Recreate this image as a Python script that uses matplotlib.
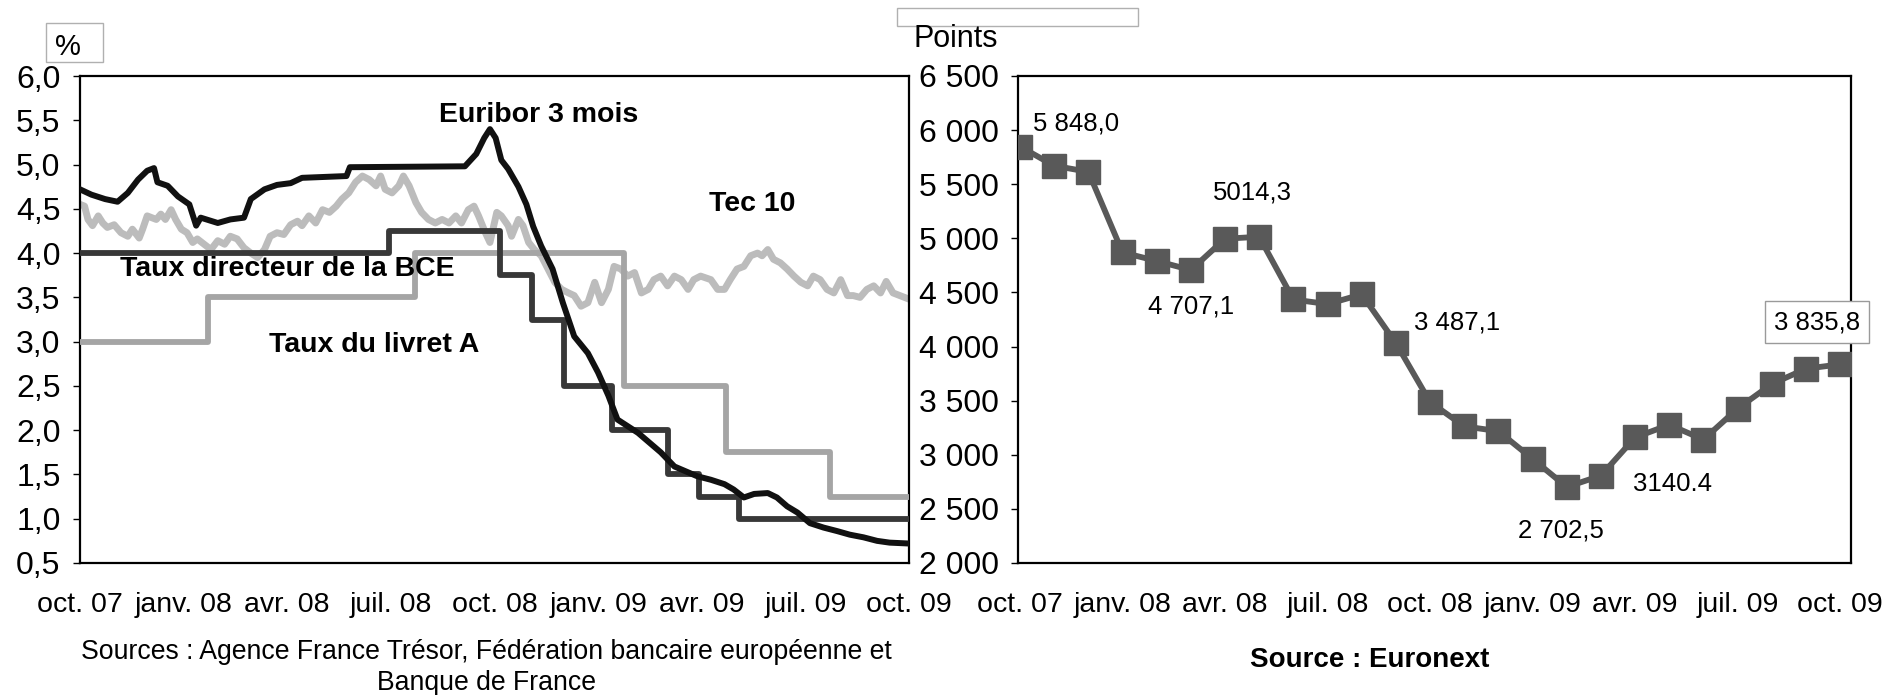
import numpy as np
import pandas as pd
import matplotlib
matplotlib.use("Agg")
import matplotlib.pyplot as plt
from matplotlib.patches import Rectangle

plt.rcParams['font.family'] = ['Liberation Sans', 'DejaVu Sans']

# ---- left panel : rates, x = days elapsed since 12/10/2007 ----
debut = pd.Timestamp("2007-10-12")
fin = 728

euribor_jour = [0, 10, 22, 33, 42, 51, 59, 65, 68, 77, 86, 96, 102, 106, 121, 132,
                144, 150, 162, 173, 185, 195, 234, 237, 338, 348, 355, 360, 365, 370,
                376, 385, 392, 398, 405, 415, 424, 434, 446, 455, 464, 472, 490, 510,
                522, 542, 554, 566, 574, 583, 592, 604, 612, 621, 630, 641, 653, 665,
                676, 688, 700, 711, 728]
euribor = [4.72, 4.66, 4.61, 4.58, 4.68, 4.83, 4.93, 4.96, 4.80, 4.76, 4.64, 4.55,
           4.31, 4.40, 4.34, 4.38, 4.40, 4.61, 4.72, 4.77, 4.79, 4.85, 4.87, 4.97,
           4.98, 5.12, 5.30, 5.40, 5.30, 5.05, 4.95, 4.75, 4.55, 4.30, 4.08, 3.82,
           3.44, 3.06, 2.87, 2.65, 2.39, 2.12, 1.97, 1.75, 1.59, 1.48, 1.44, 1.39,
           1.33, 1.24, 1.28, 1.29, 1.24, 1.14, 1.07, 0.95, 0.90, 0.86, 0.82, 0.79,
           0.75, 0.73, 0.72]

tec10_jour = [0, 4, 7, 11, 16, 20, 24, 30, 36, 42, 46, 52, 55, 59, 67, 71, 75, 80,
              84, 89, 94, 99, 103, 109, 115, 121, 127, 132, 138, 144, 150, 156, 162,
              167, 173, 179, 185, 191, 195, 201, 207, 213, 219, 225, 230, 236, 242,
              248, 254, 260, 264, 268, 274, 280, 284, 289, 295, 300, 306, 312, 318,
              324, 330, 335, 341, 346, 350, 356, 360, 366, 370, 376, 379, 385, 389,
              394, 399, 405, 411, 417, 423, 429, 434, 440, 446, 452, 458, 464, 469,
              475, 481, 487, 493, 499, 504, 510, 516, 522, 528, 534, 539, 545, 554,
              560, 566, 571, 577, 583, 589, 595, 599, 604, 609, 615, 621, 627, 633,
              639, 644, 650, 656, 662, 668, 674, 679, 685, 691, 697, 703, 708, 714,
              720, 728]
tec10 = [4.55, 4.53, 4.38, 4.31, 4.42, 4.34, 4.29, 4.32, 4.23, 4.19, 4.27, 4.17,
         4.27, 4.42, 4.38, 4.44, 4.38, 4.49, 4.38, 4.27, 4.23, 4.12, 4.16, 4.10,
         4.04, 4.14, 4.10, 4.19, 4.16, 4.06, 4.00, 3.95, 4.04, 4.19, 4.23, 4.21,
         4.32, 4.36, 4.31, 4.42, 4.34, 4.49, 4.46, 4.53, 4.61, 4.68, 4.80, 4.87,
         4.83, 4.76, 4.87, 4.72, 4.68, 4.76, 4.87, 4.76, 4.57, 4.46, 4.38, 4.34,
         4.38, 4.34, 4.42, 4.34, 4.49, 4.53, 4.42, 4.23, 4.12, 4.46, 4.42, 4.31,
         4.19, 4.38, 4.31, 4.12, 4.04, 3.97, 3.82, 3.67, 3.59, 3.55, 3.52, 3.40,
         3.44, 3.67, 3.44, 3.59, 3.85, 3.82, 3.74, 3.78, 3.55, 3.59, 3.70, 3.74,
         3.63, 3.74, 3.70, 3.59, 3.70, 3.74, 3.70, 3.59, 3.59, 3.70, 3.82, 3.85,
         3.97, 4.00, 3.97, 4.04, 3.93, 3.89, 3.82, 3.74, 3.67, 3.63, 3.74, 3.70,
         3.59, 3.55, 3.70, 3.52, 3.52, 3.50, 3.59, 3.63, 3.55, 3.68, 3.55, 3.52,
         3.48]

bce_dates = ["2007-10-12", "2008-07-09", "2008-10-15", "2008-11-12", "2008-12-10",
             "2009-01-21", "2009-03-11", "2009-04-08", "2009-05-13"]
bce_taux = [4.0, 4.25, 3.75, 3.25, 2.5, 2.0, 1.5, 1.25, 1.0]

livret_dates = ["2007-10-12", "2008-02-01", "2008-08-01", "2009-02-01",
                "2009-05-01", "2009-08-01"]
livret_taux = [3.0, 3.5, 4.0, 2.5, 1.75, 1.25]

trimestres = ["oct. 07", "janv. 08", "avr. 08", "juil. 08", "oct. 08",
              "janv. 09", "avr. 09", "juil. 09", "oct. 09"]

# ---- right panel : CAC 40, monthly ----
cac40 = [5848.0, 5670.6, 5614.1, 4869.8, 4790.7, 4707.1, 4996.5, 5014.3, 4434.9,
         4392.4, 4482.6, 4032.1, 3487.1, 3262.7, 3218.0, 2962.4, 2702.5, 2807.3,
         3159.9, 3277.7, 3140.4, 3426.3, 3653.5, 3795.0, 3835.8]
etiq_idx = [0, 5, 7, 12, 16, 20, 24]
etiq_txt = ["5 848,0", "4 707,1", "5014,3", "3 487,1", "2 702,5", "3140.4", "3 835,8"]
etiq_dx = [56, 0, -7, 27, -6, -31, -23]      # pixels
etiq_dy = [23, -36, 44, 80, -44, -44, 42]


def jours(dates):
    return [(pd.Timestamp(d) - debut).days for d in dates]


W, H = 1901, 695
fig = plt.figure(figsize=(W / 100, H / 100), dpi=100)


def fx(x):
    return x / W


def fy(y):
    return 1 - y / H


ax1 = fig.add_axes([fx(80), fy(563), fx(829), 487 / H])
ax2 = fig.add_axes([fx(1018), fy(563), fx(833), 487 / H])

# left panel
ax1.plot(tec10_jour, tec10, color="#bcbcbc", lw=5, zorder=2)
lx = jours(livret_dates) + [fin]
ax1.step(lx, livret_taux + [livret_taux[-1]], where="post", color="#a5a5a5",
         lw=4.2, zorder=3)
bx = jours(bce_dates) + [fin]
ax1.step(bx, bce_taux + [bce_taux[-1]], where="post", color="#383838",
         lw=4.2, zorder=4)
ax1.plot(euribor_jour, euribor, color="#111111", lw=4.3, zorder=5)

ax1.set_xlim(0, fin)
ax1.set_ylim(0.5, 6.0)
yt = np.arange(0.5, 6.01, 0.5)
ax1.set_yticks(yt)
ax1.set_yticklabels([f"{v:.1f}".replace(".", ",") for v in yt])
ax1.set_xticks(np.arange(0, fin + 1, 91))
ax1.set_xticklabels(trimestres)

# right panel
mois = np.arange(len(cac40))
ax2.plot(mois, cac40, color="#595959", lw=4.2, marker="s", markersize=17,
         markerfacecolor="#595959", markeredgecolor="#595959", zorder=3)
for i, t, dx, dy in zip(etiq_idx, etiq_txt, etiq_dx, etiq_dy):
    bbox = None
    if i == len(cac40) - 1:
        bbox = dict(boxstyle="square,pad=0.35", fc="white", ec="#9a9a9a", lw=1)
    ax2.annotate(t, (mois[i], cac40[i]), xytext=(dx, dy), textcoords="offset pixels",
                 ha="center", va="center", fontsize=18.5, bbox=bbox, zorder=6)
ax2.set_xlim(-0.06, 24.32)
ax2.set_ylim(2000, 6500)
yt2 = np.arange(2000, 6501, 500)
ax2.set_yticks(yt2)
ax2.set_yticklabels([f"{v:,}".replace(",", " ") for v in yt2])
ax2.set_xticks(np.arange(0, 25, 3))
ax2.set_xticklabels(trimestres)

for ax in (ax1, ax2):
    for s in ax.spines.values():
        s.set_linewidth(1.6)
        s.set_color("black")
    ax.tick_params(axis="y", direction="out", length=5, width=1, pad=9, labelsize=23)
    ax.tick_params(axis="x", length=0, pad=21, labelsize=20.5)

# series labels
lbl = dict(fontsize=20.5, fontweight="bold", ha="center", va="center")
fig.text(fx(539), fy(115), "Euribor 3 mois", **lbl)
fig.text(fx(752), fy(204), "Tec 10", **lbl)
fig.text(fx(287), fy(269), "Taux directeur de la BCE", **lbl)
fig.text(fx(374), fy(345), "Taux du livret A", **lbl)

# units and sources
fig.patches.append(Rectangle((fx(46), fy(62)), fx(57), 39 / H, transform=fig.transFigure,
                             fill=False, ec="#b0b0b0", lw=1))
fig.text(fx(68), fy(47), "%", fontsize=21, ha="center", va="center")
fig.patches.append(Rectangle((fx(897), fy(26)), fx(241), 18 / H, transform=fig.transFigure,
                             fill=False, ec="#b0b0b0", lw=1))
fig.text(fx(956), fy(39), "Points", fontsize=22, ha="center", va="center")

fig.text(fx(486), fy(652), "Sources : Agence France Trésor, Fédération bancaire européenne et",
         fontsize=19.2, ha="center", va="center")
fig.text(fx(486), fy(683), "Banque de France", fontsize=19.2, ha="center", va="center")
fig.text(fx(1370), fy(660), "Source : Euronext", fontsize=20, fontweight="semibold",
         ha="center", va="center")

fig.savefig("out.png", dpi=100)
